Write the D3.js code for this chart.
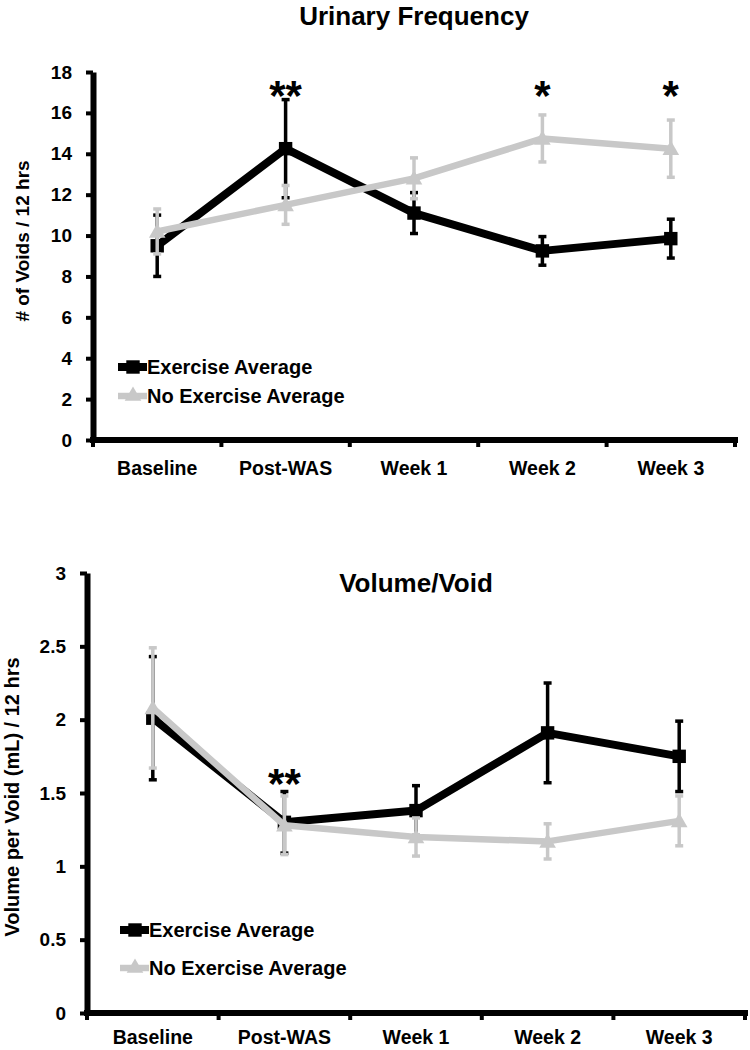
<!DOCTYPE html>
<html><head><meta charset="utf-8">
<script src="https://cdn.jsdelivr.net/npm/d3@7"></script>
<style>
body{margin:0;background:#fff}
svg{display:block}
text{font-family:"Liberation Sans",Arial,Helvetica,sans-serif;font-weight:bold;fill:#000}
</style>
</head><body>
<svg id="c" width="750" height="1050"></svg>
<script>
// ---------- data ----------
const categories = ["Baseline", "Post-WAS", "Week 1", "Week 2", "Week 3"];
const seriesNames = ["Exercise Average", "No Exercise Average"];

// Panel 1: Urinary Frequency
const freqTitle = "Urinary Frequency";
const freqYLabel = "# of Voids / 12 hrs";
const freqExercise = [9.5, 14.25, 11.1, 9.25, 9.85];
const freqExerciseErr = [1.5, 2.4, 1.0, 0.7, 0.95];
const freqNoExercise = [10.2, 11.5, 12.8, 14.75, 14.25];
const freqNoExerciseErr = [1.1, 0.95, 1.0, 1.15, 1.4];
const freqTicks = [0, 2, 4, 6, 8, 10, 12, 14, 16, 18];
const freqSig = ["", "**", "", "*", "*"];

// Panel 2: Volume/Void
const volTitle = "Volume/Void";
const volYLabel = "Volume per Void (mL) / 12 hrs";
const volExercise = [2.01, 1.30, 1.38, 1.91, 1.75];
const volExerciseErr = [0.42, 0.21, 0.17, 0.34, 0.24];
const volNoExercise = [2.08, 1.28, 1.20, 1.17, 1.31];
const volNoExerciseErr = [0.41, 0.20, 0.13, 0.12, 0.17];
const volTicks = [0, 0.5, 1, 1.5, 2, 2.5, 3];
const volSig = ["", "**", "", "", ""];

// ---------- drawing ----------
const svg = d3.select("#c");
const BLACK = "#000", GREY = "#c8c8c8";

function drawPanel(cfg) {
  const g = svg.append("g");
  const x = d3.scaleBand().domain(categories).range([cfg.x0, cfg.x1]);
  const y = d3.scaleLinear().domain([0, d3.max(cfg.ticks)]).range([cfg.yb, cfg.yt]);
  const cx = c => x(c) + x.bandwidth() / 2;

  // title
  g.append("text").attr("x", (cfg.x0 + cfg.x1) / 2).attr("y", cfg.titleY)
    .attr("text-anchor", "middle").style("font-size", "26px").text(cfg.title);

  // y axis label
  g.append("text")
    .attr("transform", `translate(${cfg.ylabX},${cfg.ylabY}) rotate(-90)`)
    .attr("text-anchor", "middle").attr("dy", "0.35em")
    .style("font-size", cfg.ylabSize + "px").text(cfg.ylabel);

  // y axis
  const ya = g.append("g").attr("transform", `translate(${cfg.x0},0)`)
    .call(d3.axisLeft(y).tickValues(cfg.ticks).tickSize(7).tickSizeOuter(0).tickPadding(14)
      .tickFormat(d3.format("")));
  ya.attr("font-family", null).attr("font-size", null);
  ya.select(".domain").attr("stroke", BLACK).attr("stroke-width", 6);
  ya.selectAll(".tick line").attr("stroke", BLACK).attr("stroke-width", 4);
  ya.selectAll(".tick text").style("font-size", "19px").attr("fill", BLACK);

  // x axis (labels at band centers)
  const xa = g.append("g").attr("transform", `translate(0,${cfg.yb})`)
    .call(d3.axisBottom(x).tickSize(0).tickSizeOuter(0).tickPadding(cfg.xPad));
  xa.attr("font-family", null).attr("font-size", null);
  xa.select(".domain").attr("stroke", BLACK).attr("stroke-width", 6)
    .attr("d", `M${cfg.x0 - 3},0H${cfg.x1 + 3}`);
  xa.selectAll(".tick text").style("font-size", "19.5px").attr("fill", BLACK);
  // boundary ticks
  const bounds = [cfg.x0].concat(categories.map(c => x(c) + x.bandwidth()));
  g.append("g").selectAll("line").data(bounds).join("line")
    .attr("x1", d => d).attr("x2", d => d)
    .attr("y1", cfg.yb).attr("y2", cfg.yb + 7)
    .attr("stroke", BLACK).attr("stroke-width", 4);

  const series = [
    {name: seriesNames[0], vals: cfg.ex, err: cfg.exErr, color: BLACK, lw: 8, sym: d3.symbolSquare, size: 180},
    {name: seriesNames[1], vals: cfg.no, err: cfg.noErr, color: GREY, lw: 6.5, sym: d3.symbolTriangle, size: 120}
  ];

  series.forEach(s => {
    const pts = categories.map((c, i) => ({c, v: s.vals[i], e: s.err[i]}));
    const eg = g.append("g");
    eg.selectAll("line.v").data(pts).join("line").attr("class", "v")
      .attr("x1", d => cx(d.c)).attr("x2", d => cx(d.c))
      .attr("y1", d => y(d.v - d.e)).attr("y2", d => y(d.v + d.e))
      .attr("stroke", s.color).attr("stroke-width", 3.5);
    ["m", "p"].forEach(sign => {
      eg.selectAll("line.c" + sign).data(pts).join("line")
        .attr("class", "c" + sign)
        .attr("x1", d => cx(d.c) - 4).attr("x2", d => cx(d.c) + 4)
        .attr("y1", d => y(sign === "m" ? d.v - d.e : d.v + d.e))
        .attr("y2", d => y(sign === "m" ? d.v - d.e : d.v + d.e))
        .attr("stroke", s.color).attr("stroke-width", 3.5);
    });
    g.append("path").datum(pts)
      .attr("d", d3.line().x(d => cx(d.c)).y(d => y(d.v)))
      .attr("fill", "none").attr("stroke", s.color).attr("stroke-width", s.lw)
      .attr("stroke-linejoin", "round");
    g.append("g").selectAll("path").data(pts).join("path")
      .attr("transform", d => `translate(${cx(d.c)},${y(d.v) + (s.sym === d3.symbolTriangle ? 1.5 : 0)})`)
      .attr("d", d3.symbol().type(s.sym).size(s.size))
      .attr("fill", s.color);
  });

  // significance stars
  g.append("g").selectAll("text").data(categories.map((c, i) => ({c, s: cfg.sig[i]})).filter(d => d.s))
    .join("text")
    .attr("x", d => cx(d.c)).attr("y", cfg.sigY)
    .attr("text-anchor", "middle").style("font-size", "42px").text(d => d.s);

  // legend
  series.forEach((s, i) => {
    const ly = cfg.legY[i];
    g.append("line").attr("x1", cfg.legX - 15).attr("x2", cfg.legX + 14)
      .attr("y1", ly).attr("y2", ly).attr("stroke", s.color).attr("stroke-width", s.lw);
    g.append("path").attr("transform", `translate(${cfg.legX},${ly})`)
      .attr("d", d3.symbol().type(s.sym).size(s.size)).attr("fill", s.color);
    g.append("text").attr("x", cfg.legX + 14).attr("y", ly + 6.5)
      .style("font-size", "20px").text(s.name);
  });
}

drawPanel({
  title: freqTitle, ylabel: freqYLabel, ticks: freqTicks,
  ex: freqExercise, exErr: freqExerciseErr, no: freqNoExercise, noErr: freqNoExerciseErr, sig: freqSig,
  x0: 93, x1: 735, yb: 440, yt: 72, titleY: 25, ylabX: 22, ylabY: 241, ylabSize: 19,
  sigY: 110, legX: 133, legY: [367, 396], xPad: 21
});

drawPanel({
  title: volTitle, ylabel: volYLabel, ticks: volTicks,
  ex: volExercise, exErr: volExerciseErr, no: volNoExercise, noErr: volNoExerciseErr, sig: volSig,
  x0: 87, x1: 745, yb: 1013, yt: 573, titleY: 592, ylabX: 12, ylabY: 797, ylabSize: 20,
  sigY: 798, legX: 135, legY: [930, 968], xPad: 17
});
</script>
</body></html>
